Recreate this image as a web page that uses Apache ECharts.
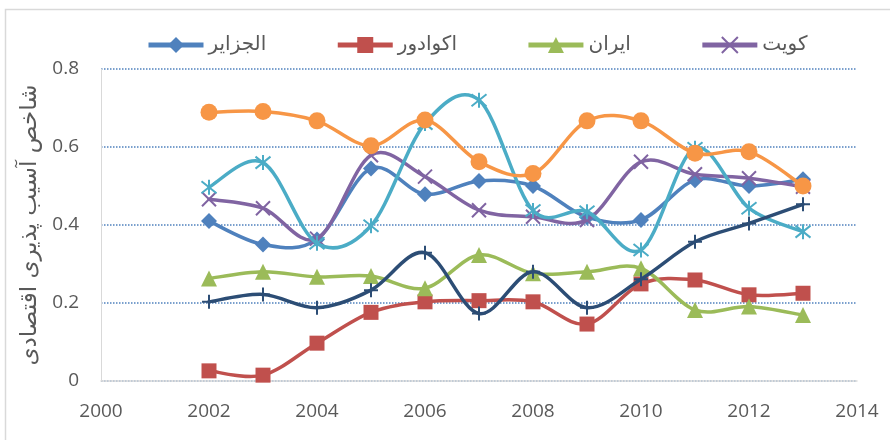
<!DOCTYPE html>
<html>
<head>
<meta charset="utf-8">
<script src="https://cdn.jsdelivr.net/npm/echarts@6/dist/echarts.min.js"></script>
<style>
html,body{margin:0;padding:0;background:#fff;}
#c{width:890px;height:440px;}
</style>
</head>
<body>
<div id="c"></div>
<script>
var years = [2002, 2003, 2004, 2005, 2006, 2007, 2008, 2009, 2010, 2011, 2012, 2013];
var xTicks = [2000, 2002, 2004, 2006, 2008, 2010, 2012, 2014];
var yTicks = [0, 0.2, 0.4, 0.6, 0.8];
var seriesNames = ['الجزایر', 'اکوادور', 'ایران', 'کویت', 'سری ۵', 'سری ۶', 'سری ۷'];
var legendNames = ['الجزایر', 'اکوادور', 'ایران', 'کویت'];
var algeria  = [0.410, 0.350, 0.363, 0.545, 0.479, 0.513, 0.500, 0.420, 0.413, 0.515, 0.500, 0.517];
var ecuador  = [0.026, 0.015, 0.097, 0.176, 0.203, 0.206, 0.203, 0.146, 0.249, 0.259, 0.221, 0.225];
var iran     = [0.263, 0.280, 0.267, 0.269, 0.238, 0.323, 0.276, 0.280, 0.289, 0.182, 0.191, 0.169];
var kuwait   = [0.466, 0.443, 0.365, 0.579, 0.524, 0.438, 0.421, 0.413, 0.562, 0.530, 0.520, 0.498];
var series5  = [0.497, 0.560, 0.353, 0.398, 0.660, 0.720, 0.437, 0.434, 0.336, 0.597, 0.443, 0.383];
var series6  = [0.689, 0.691, 0.667, 0.603, 0.669, 0.562, 0.532, 0.667, 0.667, 0.584, 0.588, 0.500];
var series7  = [0.203, 0.222, 0.188, 0.233, 0.329, 0.173, 0.280, 0.188, 0.261, 0.357, 0.404, 0.453];

var allValues = [algeria, ecuador, iran, kuwait, series5, series6, series7];
var colors = ['#4F81BD', '#C0504D', '#9BBB59', '#8064A2', '#4BACC6', '#F79646', '#2C4D75'];
var symbols = ['diamond', 'rect', 'triangle',
  'path://M0,0L10,10M10,0L0,10',
  'path://M5,0L5,10M1,1L9,9M9,1L1,9',
  'circle',
  'path://M5,0L5,10M0,5L10,5'];
var sizes = [16, 15, 16, 14, 15, 17, 14];
var strokeSym = [false, false, false, true, true, false, true];

function pairs(vals){ return years.map(function(y,i){ return [y, vals[i]]; }); }

// Excel-like smoothed curve (Catmull-Rom style bezier) drawn through the axis scales
function curveRenderer(vals, color){
  return function(params, api){
    if (params.dataIndex !== 0) return null;
    var p = vals.map(function(v, i){ return api.coord([years[i], v]); });
    var n = p.length, t = 1/6;
    var d = 'M' + p[0][0] + ',' + p[0][1];
    for (var i = 0; i < n - 1; i++){
      var p0 = p[Math.max(i-1,0)], p1 = p[i], p2 = p[i+1], p3 = p[Math.min(i+2,n-1)];
      var c1x = p1[0] + (p2[0]-p0[0])*t, c1y = p1[1] + (p2[1]-p0[1])*t;
      var c2x = p2[0] - (p3[0]-p1[0])*t, c2y = p2[1] - (p3[1]-p1[1])*t;
      d += 'C' + c1x + ',' + c1y + ',' + c2x + ',' + c2y + ',' + p2[0] + ',' + p2[1];
    }
    return {type: 'path', shape: {pathData: d},
      style: {fill: 'none', stroke: color, lineWidth: 3.5, lineJoin: 'round', lineCap: 'round'}};
  };
}

var series = [];
allValues.forEach(function(vals, k){
  var it = {color: colors[k]};
  if (strokeSym[k]) { it.borderColor = colors[k]; it.borderWidth = 2; }
  series.push({
    name: seriesNames[k] + ' - curve',
    type: 'custom',
    data: pairs(vals),
    encode: {x: 0, y: 1},
    renderItem: curveRenderer(vals, colors[k]),
    silent: true,
    z: 2 + 2*k
  });
  series.push({
    name: seriesNames[k],
    type: 'line',
    smooth: false,
    data: pairs(vals),
    symbol: symbols[k],
    symbolSize: sizes[k],
    showAllSymbol: true,
    lineStyle: {color: colors[k], width: 3.5, opacity: 0},
    itemStyle: it,
    z: 3 + 2*k
  });
});

var chart = echarts.init(document.getElementById('c'), null, {renderer: 'canvas'});
chart.setOption({
  animation: false,
  backgroundColor: '#fff',
  color: colors,
  graphic: [{
    type: 'rect', shape: {x: 5.5, y: 9.5, width: 900, height: 440},
    style: {fill: 'none', stroke: '#d9d9d9', lineWidth: 1.5}, silent: true, z: -1
  }],
  legend: {
    data: legendNames,
    left: 141, top: 30,
    itemWidth: 55, itemHeight: 20, itemGap: 69,
    lineStyle: {width: 5, opacity: 1},
    textStyle: {fontFamily: 'DejaVu Sans', fontSize: 20, color: '#595959'}
  },
  grid: {left: 101, right: 33, top: 69, bottom: 59},
  xAxis: {
    type: 'value', min: xTicks[0], max: xTicks[xTicks.length-1], interval: 2,
    axisLine: {show: true, lineStyle: {color: '#d9d9d9', width: 1.5}},
    axisTick: {show: false},
    splitLine: {show: false},
    axisLabel: {margin: 21, fontFamily: 'Open Sans', fontSize: 19, color: '#595959',
      formatter: function(v){ return String(v); }}
  },
  yAxis: {
    type: 'value', min: yTicks[0], max: yTicks[yTicks.length-1], interval: 0.2,
    name: 'شاخص آسیب پذیری اقتصادی',
    nameLocation: 'middle', nameRotate: 90, nameGap: 54,
    nameTextStyle: {fontFamily: 'DejaVu Sans', fontSize: 23, color: '#595959'},
    axisLine: {show: true, lineStyle: {color: '#d9d9d9', width: 1}},
    axisTick: {show: false},
    splitLine: {show: true, lineStyle: {color: '#4F81BD', type: 'dotted', width: 1.5}},
    axisLabel: {margin: 22, fontFamily: 'Open Sans', fontSize: 19, color: '#595959'}
  },
  series: series
});
</script>
</body>
</html>
